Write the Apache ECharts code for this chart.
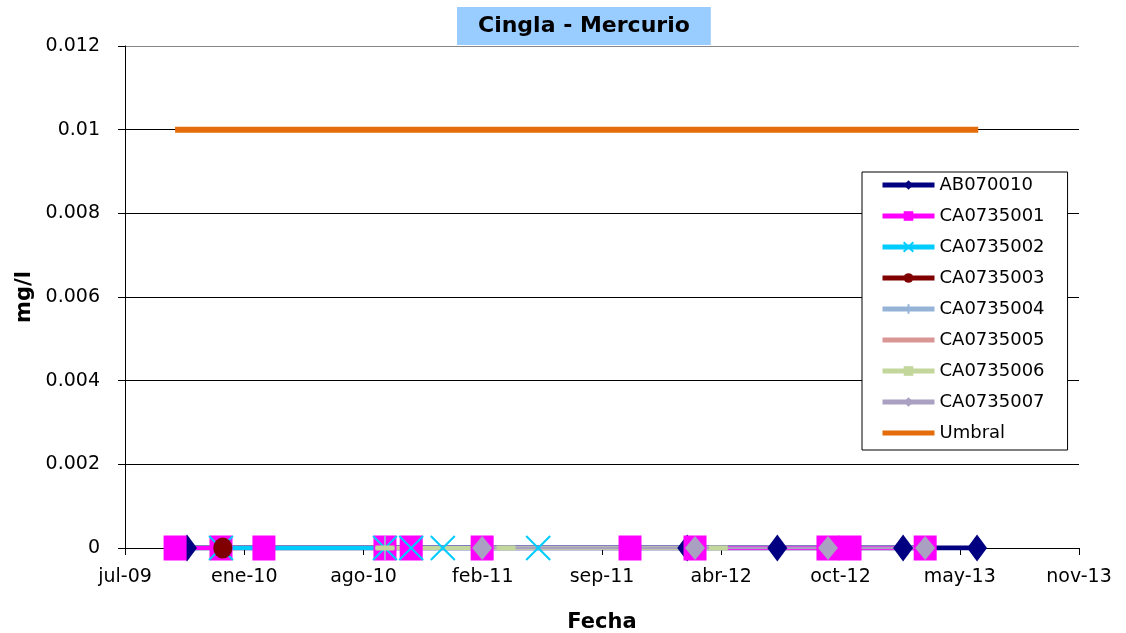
<!DOCTYPE html>
<html>
<head>
<meta charset="utf-8">
<script src="https://cdn.jsdelivr.net/npm/echarts@6/dist/echarts.min.js"></script>
<style>
  html, body { margin: 0; padding: 0; background: #fff; }
  #chart { width: 1126px; height: 633px; }
</style>
</head>
<body>
<div id="chart"></div>
<script>
// fechas de muestreo y valores en mg/l
const ab070010Dates = ['2009-10-18', '2012-02-04', '2012-07-04', '2013-01-31', '2013-06-04'];
const ab070010Values = [0, 0, 0, 0, 0];
const ca0735001Dates = ['2009-09-28', '2009-12-14', '2010-02-24', '2010-09-15', '2010-10-29', '2011-02-25',
    '2011-10-31', '2012-02-17', '2012-09-27', '2012-11-03', '2013-03-09'];
const ca0735001Values = [0, 0, 0, 0, 0, 0, 0, 0, 0, 0, 0];
const ca0735002Dates = ['2009-12-14', '2010-09-15', '2010-10-29', '2010-12-21', '2011-05-30'];
const ca0735002Values = [0, 0, 0, 0, 0];
const ca0735003Dates = ['2009-12-17'];
const ca0735003Values = [0];
const ca0735004Dates = ['2010-09-15'];
const ca0735004Values = [0];
const ca0735005Dates = ['2010-09-15'];
const ca0735005Values = [0];
const ca0735006Dates = ['2010-09-15', '2011-04-06', '2012-03-27'];
const ca0735006Values = [0, 0, 0];
const ca0735007Dates = ['2011-02-25', '2012-02-17', '2012-09-27', '2013-03-09'];
const ca0735007Values = [0, 0, 0, 0];
const umbralDates = ['2009-09-28', '2013-06-06'];
const umbralValues = [0.01, 0.01];

// eje X: fechas de Excel (dias desde 1899-12-30), de jul-09 a nov-13 cada 200 dias
const xMin = 40000;
const xMax = 41600;
const xStep = 200;
const yTicks = [0, 0.002, 0.004, 0.006, 0.008, 0.01, 0.012];
const meses = ['ene', 'feb', 'mar', 'abr', 'may', 'jun', 'jul', 'ago', 'sep', 'oct', 'nov', 'dic'];

const EXCEL_EPOCH = Date.UTC(1899, 11, 30);
const toSerial = (d) => Math.round((Date.parse(d) - EXCEL_EPOCH) / 86400000);
const serialLabel = (s) => {
    const d = new Date(EXCEL_EPOCH + s * 86400000);
    return meses[d.getUTCMonth()] + '-' + String(d.getUTCFullYear()).slice(2);
};
const pairs = (dates, values) => dates.map((d, i) => [toSerial(d), values[i]]);

const FONT = 'DejaVu Sans';
const xPath = 'path://M0,0L10,10M10,0L0,10';
const plusPath = 'path://M5,0L5,10M0,5L10,5';

const mkLine = (name, data, color, width, symbol, size, extra) => Object.assign({
    name: name,
    type: 'line',
    data: data,
    symbol: symbol,
    symbolSize: size,
    showAllSymbol: true,
    animation: false,
    lineStyle: { color: color, width: width },
    itemStyle: { color: color, borderColor: color, borderWidth: 0 }
}, extra || {});

// series sin marcador: simbolo transparente para que la leyenda muestre solo la linea
const noMark = { itemStyle: { color: 'rgba(0,0,0,0)', borderWidth: 0 } };

const option = {
    backgroundColor: '#fff',
    title: {
        text: 'Cingla - Mercurio',
        left: 457,
        top: 7,
        padding: [8, 21, 8, 21],
        backgroundColor: '#99CCFF',
        textStyle: { fontFamily: FONT, fontWeight: 'bold', fontSize: 22, color: '#000' }
    },
    grid: { left: 125, right: 47, top: 46, bottom: 85, outerBoundsMode: 'none', containLabel: false },
    legend: {
        orient: 'vertical',
        left: 862,
        top: 172,
        padding: [4, 23, 8, 18],
        itemWidth: 52,
        itemHeight: 12,
        itemGap: 13,
        backgroundColor: '#fff',
        borderColor: '#000',
        borderWidth: 1,
        lineStyle: { width: 5 },
        textStyle: { fontFamily: FONT, fontSize: 18, color: '#000', lineHeight: 18 },
        data: ['AB070010', 'CA0735001', 'CA0735002', 'CA0735003', 'CA0735004',
            'CA0735005', 'CA0735006', 'CA0735007', 'Umbral']
    },
    xAxis: {
        type: 'value',
        min: xMin,
        max: xMax,
        interval: xStep,
        name: 'Fecha',
        nameLocation: 'middle',
        nameGap: 64,
        nameTextStyle: { fontFamily: FONT, fontWeight: 'bold', fontSize: 21, color: '#000' },
        axisLine: { lineStyle: { color: '#000', width: 1 } },
        axisTick: { show: true, length: 7, lineStyle: { color: '#000' } },
        axisLabel: {
            margin: 20,
            fontFamily: FONT, fontSize: 19, color: '#000',
            formatter: serialLabel
        },
        splitLine: { show: false }
    },
    yAxis: {
        type: 'value',
        min: yTicks[0],
        max: yTicks[yTicks.length - 1],
        interval: yTicks[1] - yTicks[0],
        name: 'mg/l',
        nameLocation: 'middle',
        nameGap: 80,
        nameTextStyle: { fontFamily: FONT, fontWeight: 'bold', fontSize: 21, color: '#000' },
        axisLine: { show: true, lineStyle: { color: '#000', width: 1 } },
        axisTick: { show: true, length: 7, lineStyle: { color: '#000' } },
        axisLabel: {
            margin: 25,
            fontFamily: FONT, fontSize: 19, color: '#000',
            formatter: (v) => String(+v.toFixed(3))
        },
        splitLine: {
            show: true,
            lineStyle: { color: ['#000', '#000', '#000', '#000', '#000', '#000', '#888'], width: 1 }
        }
    },
    series: [
        mkLine('AB070010', pairs(ab070010Dates, ab070010Values), '#000080', 5, 'diamond', [20, 27]),
        mkLine('CA0735001', pairs(ca0735001Dates, ca0735001Values), '#FF00FF', 4, 'rect', [23, 25]),
        mkLine('CA0735002', pairs(ca0735002Dates, ca0735002Values), '#00CCFF', 4, xPath, [24, 24],
            { itemStyle: { color: 'none', borderColor: '#00CCFF', borderWidth: 2 } }),
        mkLine('CA0735003', pairs(ca0735003Dates, ca0735003Values), '#800000', 4, 'circle', [19, 21]),
        mkLine('CA0735004', pairs(ca0735004Dates, ca0735004Values), '#95B3D7', 4, plusPath, [20, 24],
            { itemStyle: { color: 'none', borderColor: '#95B3D7', borderWidth: 2 } }),
        mkLine('CA0735005', pairs(ca0735005Dates, ca0735005Values), '#D99694', 4, 'circle', 0, noMark),
        mkLine('CA0735006', pairs(ca0735006Dates, ca0735006Values), '#C3D69B', 4, 'rect', [19, 5]),
        mkLine('CA0735007', pairs(ca0735007Dates, ca0735007Values), '#A9A0C2', 3, 'diamond', [20, 24]),
        mkLine('Umbral', pairs(umbralDates, umbralValues), '#E46C0A', 6, 'circle', 0, noMark)
    ]
};

const myChart = echarts.init(document.getElementById('chart'));
myChart.setOption(option);
</script>
</body>
</html>
